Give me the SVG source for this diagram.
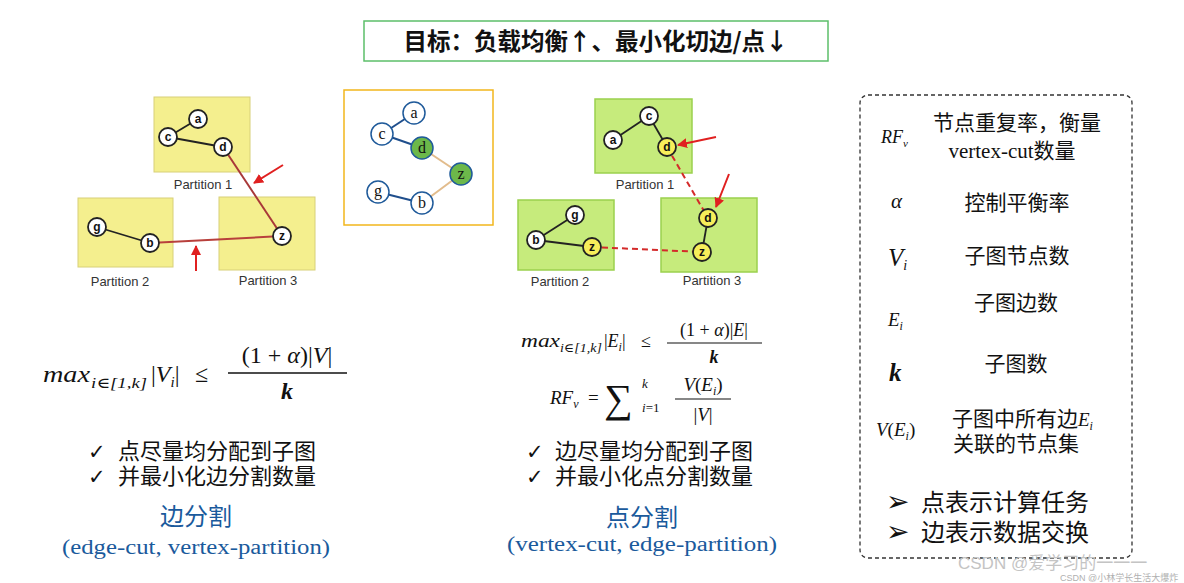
<svg xmlns="http://www.w3.org/2000/svg" width="1184" height="583" viewBox="0 0 1184 583">
<defs>
<marker id="ah" viewBox="0 0 10 10" refX="9" refY="5" markerWidth="5" markerHeight="5" orient="auto-start-reverse">
<path d="M0,0 L10,5 L0,10 z" fill="#e02020"/>
</marker>
</defs>
<style>
.cjk{font-family:"Noto Sans CJK SC","Noto Sans",sans-serif;fill:#111}
.m{font-family:"Liberation Serif","DejaVu Serif",serif;font-style:italic;fill:#111}
.r{font-family:"Liberation Serif","DejaVu Serif",serif;fill:#111}
.py{fill:#f4ef8e;stroke:#d8d078;stroke-width:1}
.pg{fill:#c6eb7c;stroke:#9bd14e;stroke-width:1.5}
.pl{font-family:"Liberation Sans",Arial,sans-serif;font-size:13px;fill:#333;text-anchor:middle}
.n{fill:#fff;stroke:#222;stroke-width:1.8}
.ny{fill:#f7ee5a;stroke:#222;stroke-width:1.8}
.nl{font-family:"Liberation Sans",Arial,sans-serif;font-weight:bold;font-size:12px;fill:#111;text-anchor:middle}
.mn{fill:#fff;stroke:#1f5a9a;stroke-width:1.5}
.mg{fill:#6cb84a;stroke:#1f5a9a;stroke-width:1.5}
.ml{font-family:"Liberation Serif",serif;font-size:16px;fill:#111;text-anchor:middle}
.e{stroke:#222;stroke-width:1.8;fill:none}
.eb{stroke:#1f4e8c;stroke-width:2;fill:none}
.et{stroke:#e2bc8c;stroke-width:2;fill:none}
.rd{stroke:#d42a2a;stroke-width:2;stroke-dasharray:6 4;fill:none}
.ra{stroke:#e02020;stroke-width:2;fill:none;marker-end:url(#ah)}
.chk{font-family:"DejaVu Sans",sans-serif;font-size:21px;font-weight:bold;fill:#111}
.arr{font-family:"DejaVu Sans",sans-serif;font-size:28px;fill:#111}
</style>
<rect width="1184" height="583" fill="#fff"/>

<g id="title">
<rect x="364" y="21" width="464" height="40" fill="#fff" stroke="#5cbf6a" stroke-width="1.5"/>
<text x="596" y="50" class="cjk" font-size="23.5" font-weight="bold" text-anchor="middle">目标：负载均衡↑、最小化切边/点↓</text>
</g>

<g id="edgecut-diagram">
<g id="ec-partitions">
<rect x="154" y="97" width="96" height="75" class="py"/>
<rect x="78" y="198" width="95" height="69" class="py"/>
<rect x="219" y="197" width="96" height="73" class="py"/>
<text x="203" y="189" class="pl">Partition 1</text>
<text x="120" y="286" class="pl">Partition 2</text>
<text x="268" y="285" class="pl">Partition 3</text>
</g>
<g id="ec-edges">
<line x1="168" y1="137" x2="198" y2="119" class="e"/>
<line x1="168" y1="137" x2="223" y2="147" class="e"/>
<line x1="97" y1="227" x2="150" y2="243" class="e"/>
<line x1="223" y1="147" x2="282" y2="236" stroke="#a83838" stroke-width="2"/>
<line x1="150" y1="243" x2="282" y2="236" stroke="#b8403c" stroke-width="2"/>
<line x1="283" y1="165" x2="254" y2="183" class="ra"/>
<line x1="196" y1="271" x2="196" y2="246" class="ra"/>
</g>
<g id="ec-a"><circle cx="198" cy="119" r="9" class="n"/><text x="198" y="123" class="nl">a</text></g>
<g id="ec-c"><circle cx="168" cy="137" r="9" class="n"/><text x="168" y="141" class="nl">c</text></g>
<g id="ec-d"><circle cx="223" cy="147" r="9" class="n"/><text x="223" y="151" class="nl">d</text></g>
<g id="ec-g"><circle cx="97" cy="227" r="9" class="n"/><text x="97" y="231" class="nl">g</text></g>
<g id="ec-b"><circle cx="150" cy="243" r="9" class="n"/><text x="150" y="247" class="nl">b</text></g>
<g id="ec-z"><circle cx="282" cy="236" r="9" class="n"/><text x="282" y="240" class="nl">z</text></g>
</g>

<g id="graph-diagram">
<rect x="344" y="90" width="149" height="135" fill="#fff" stroke="#f2b61c" stroke-width="1.5"/>
<g id="g-edges">
<line x1="382" y1="134" x2="414" y2="113" class="eb"/>
<line x1="382" y1="134" x2="422" y2="148" class="eb"/>
<line x1="378" y1="192" x2="422" y2="203" class="eb"/>
<line x1="422" y1="148" x2="461" y2="174" class="et"/>
<line x1="461" y1="174" x2="422" y2="203" class="et"/>
</g>
<g id="g-a"><circle cx="414" cy="113" r="11" class="mn"/><text x="414" y="118" class="ml">a</text></g>
<g id="g-c"><circle cx="382" cy="134" r="11" class="mn"/><text x="382" y="139" class="ml">c</text></g>
<g id="g-d"><circle cx="422" cy="148" r="11" class="mg"/><text x="422" y="153" class="ml">d</text></g>
<g id="g-z"><circle cx="461" cy="174" r="11" class="mg"/><text x="461" y="179" class="ml">z</text></g>
<g id="g-g"><circle cx="378" cy="192" r="11" class="mn"/><text x="378" y="196" class="ml">g</text></g>
<g id="g-b"><circle cx="422" cy="203" r="11" class="mn"/><text x="422" y="208" class="ml">b</text></g>
</g>

<g id="vertexcut-diagram">
<g id="vc-partitions">
<rect x="595" y="99" width="97" height="74" class="pg"/>
<rect x="518" y="200" width="96" height="70" class="pg"/>
<rect x="661" y="198" width="96" height="74" class="pg"/>
<text x="645" y="189" class="pl">Partition 1</text>
<text x="560" y="286" class="pl">Partition 2</text>
<text x="712" y="285" class="pl">Partition 3</text>
</g>
<g id="vc-edges">
<line x1="649" y1="116" x2="613" y2="140" class="e"/>
<line x1="649" y1="116" x2="667" y2="147" class="e"/>
<line x1="575" y1="215" x2="536" y2="240" class="e"/>
<line x1="536" y1="240" x2="592" y2="247" class="e"/>
<line x1="708" y1="218" x2="702" y2="252" class="e"/>
<line x1="667" y1="147" x2="708" y2="218" class="rd"/>
<line x1="592" y1="247" x2="702" y2="252" class="rd"/>
<line x1="716" y1="137" x2="678" y2="145" class="ra"/>
<line x1="729" y1="174" x2="716" y2="207" class="ra"/>
</g>
<g id="vc-c"><circle cx="649" cy="116" r="9" class="n"/><text x="649" y="120" class="nl">c</text></g>
<g id="vc-a"><circle cx="613" cy="140" r="9" class="n"/><text x="613" y="144" class="nl">a</text></g>
<g id="vc-d1"><circle cx="667" cy="147" r="9" class="ny"/><text x="667" y="151" class="nl">d</text></g>
<g id="vc-g"><circle cx="575" cy="215" r="9" class="n"/><text x="575" y="219" class="nl">g</text></g>
<g id="vc-b"><circle cx="536" cy="240" r="9" class="n"/><text x="536" y="244" class="nl">b</text></g>
<g id="vc-z2"><circle cx="592" cy="247" r="9" class="ny"/><text x="592" y="251" class="nl">z</text></g>
<g id="vc-d3"><circle cx="708" cy="218" r="9" class="ny"/><text x="708" y="222" class="nl">d</text></g>
<g id="vc-z3"><circle cx="702" cy="252" r="9" class="ny"/><text x="702" y="256" class="nl">z</text></g>
</g>

<g id="edgecut-text">
<text x="43" y="382" class="m" font-size="24" textLength="47" lengthAdjust="spacingAndGlyphs">max</text>
<text x="91" y="388" class="m" font-size="15" textLength="56" lengthAdjust="spacingAndGlyphs">i∈[1,k]</text>
<text x="151" y="382" class="r" font-size="24">|<tspan class="m">V</tspan><tspan class="m" font-size="15" dy="5">i</tspan><tspan dy="-5">|</tspan></text>
<text x="195" y="382" class="r" font-size="24">≤</text>
<text x="287" y="363" class="r" font-size="24" text-anchor="middle">(1 + <tspan class="m">α</tspan>)|<tspan class="m">V</tspan>|</text>
<line x1="228" y1="373" x2="347" y2="373" stroke="#111" stroke-width="1.4"/>
<text x="287" y="399" class="m" font-size="24" font-weight="bold" text-anchor="middle">k</text>
<text class="chk"><tspan x="88" y="459">✓</tspan><tspan x="88" y="484">✓</tspan></text>
<text class="cjk" font-size="22"><tspan x="118" y="459">点尽量均分配到子图</tspan><tspan x="118" y="484">并最小化边分割数量</tspan></text>
<text x="196" y="525" class="cjk" font-size="24" text-anchor="middle" style="fill:#1a5a9c">边分割</text>
<text x="196" y="554" class="r" font-size="20" text-anchor="middle" textLength="268" lengthAdjust="spacingAndGlyphs" style="fill:#1a5a9c">(edge-cut, vertex-partition)</text>
</g>

<g id="vertexcut-text">
<text x="521" y="347" class="m" font-size="18" textLength="39" lengthAdjust="spacingAndGlyphs">max</text>
<text x="560" y="352" class="m" font-size="12" textLength="42" lengthAdjust="spacingAndGlyphs">i∈[1,k]</text>
<text x="604" y="347" class="r" font-size="18">|<tspan class="m">E</tspan><tspan class="m" font-size="12" dy="4">i</tspan><tspan dy="-4">|</tspan></text>
<text x="641" y="347" class="r" font-size="18">≤</text>
<text x="714" y="336" class="r" font-size="18" text-anchor="middle">(1 + <tspan class="m">α</tspan>)|<tspan class="m">E</tspan>|</text>
<line x1="667" y1="343" x2="762" y2="343" stroke="#111" stroke-width="1.2"/>
<text x="714" y="363" class="m" font-size="18" font-weight="bold" text-anchor="middle">k</text>
<text x="550" y="404" class="m" font-size="19">RF<tspan font-size="12" dy="4">v</tspan></text>
<text x="588" y="404" class="r" font-size="19">=</text>
<text x="604" y="412" class="r" font-size="40">∑</text>
<text x="642" y="388" class="m" font-size="13">k</text>
<text x="642" y="412" class="r" font-size="13"><tspan class="m">i</tspan>=1</text>
<text x="703" y="391" class="r" font-size="19" text-anchor="middle"><tspan class="m">V</tspan>(<tspan class="m">E</tspan><tspan class="m" font-size="12" dy="4">i</tspan><tspan dy="-4">)</tspan></text>
<line x1="675" y1="399" x2="731" y2="399" stroke="#111" stroke-width="1.2"/>
<text x="703" y="421" class="r" font-size="19" text-anchor="middle">|<tspan class="m">V</tspan>|</text>
<text class="chk"><tspan x="526" y="459">✓</tspan><tspan x="526" y="484">✓</tspan></text>
<text class="cjk" font-size="22"><tspan x="555" y="459">边尽量均分配到子图</tspan><tspan x="555" y="484">并最小化点分割数量</tspan></text>
<text x="642" y="526" class="cjk" font-size="24" text-anchor="middle" style="fill:#1a5a9c">点分割</text>
<text x="642" y="551" class="r" font-size="20" text-anchor="middle" textLength="270" lengthAdjust="spacingAndGlyphs" style="fill:#1a5a9c">(vertex-cut, edge-partition)</text>
</g>

<g id="legend">
<rect x="860" y="95" width="272" height="463" rx="8" fill="none" stroke="#333" stroke-width="1.3" stroke-dasharray="4 3"/>
<text x="881" y="143" class="m" font-size="18">RF<tspan font-size="11" dy="4">v</tspan></text>
<text class="cjk" font-size="21" text-anchor="middle"><tspan x="1017" y="130">节点重复率，衡量</tspan><tspan x="1012" y="158"><tspan class="r">vertex-cut</tspan>数量</tspan></text>
<text x="891" y="208" class="m" font-size="21">α</text>
<text x="1017" y="210" class="cjk" font-size="21" text-anchor="middle">控制平衡率</text>
<text x="888" y="266" class="m" font-size="25">V<tspan font-size="14" dy="4">i</tspan></text>
<text x="1017" y="263" class="cjk" font-size="21" text-anchor="middle">子图节点数</text>
<text x="888" y="326" class="m" font-size="19">E<tspan font-size="12" dy="4">i</tspan></text>
<text x="1016" y="310" class="cjk" font-size="21" text-anchor="middle">子图边数</text>
<text x="889" y="381" class="m" font-size="25" font-weight="bold">k</text>
<text x="1016" y="371" class="cjk" font-size="21" text-anchor="middle">子图数</text>
<text x="876" y="436" class="r" font-size="19"><tspan class="m">V</tspan>(<tspan class="m">E</tspan><tspan class="m" font-size="12" dy="4">i</tspan><tspan dy="-4">)</tspan></text>
<text class="cjk" font-size="21"><tspan x="952" y="426">子图中所有边</tspan><tspan class="m" font-size="19">E</tspan><tspan class="m" font-size="12" dy="4">i</tspan><tspan x="953" y="451">关联的节点集</tspan></text>
<text class="arr"><tspan x="886" y="511">➢</tspan><tspan x="886" y="541">➢</tspan></text>
<text class="cjk" font-size="24"><tspan x="921" y="511">点表示计算任务</tspan><tspan x="921" y="541">边表示数据交换</tspan></text>
</g>

<g id="watermark">
<text x="958" y="569" font-family="'Liberation Sans','Noto Sans CJK SC',sans-serif" font-size="17" fill="#c4c4c4">CSDN @爱学习的一一一</text>
<text x="1060" y="581" font-family="'Liberation Sans','Noto Sans CJK SC',sans-serif" font-size="9" fill="#b0b0b0">CSDN @小林学长生活大爆炸</text>
</g>
</svg>
